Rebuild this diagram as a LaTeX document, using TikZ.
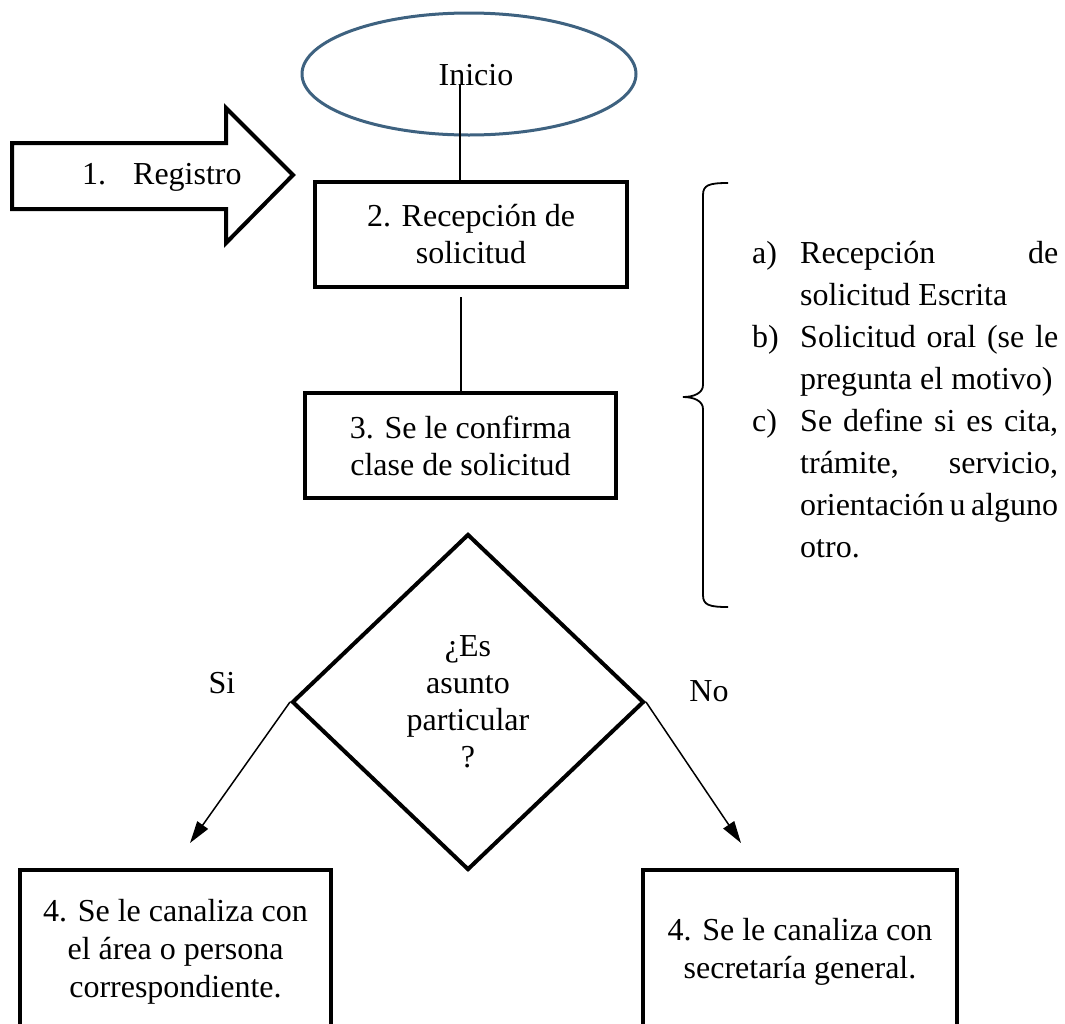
\documentclass[tikz,border=0pt]{standalone}
\usepackage{fontspec}
\setmainfont{Liberation Serif}
\usetikzlibrary{shapes.geometric,arrows.meta}
\definecolor{elline}{RGB}{62,98,128}
\begin{document}
\begin{tikzpicture}[x=1pt,y=-1pt,
  txt/.style={font=\fontsize{32}{37}\selectfont, inner sep=0pt, align=center},
  listtxt/.style={font=\fontsize{32}{38}\selectfont, inner sep=0pt, anchor=base west},
  boxnode/.style={draw, line width=4pt, rectangle, inner sep=0pt, align=center, font=\fontsize{32}{38}\selectfont},
  conn/.style={line width=1.5pt},
  arr/.style={conn, -{Triangle[length=22pt,width=13pt]}},
  bigarrow/.style={draw, line width=4pt, line join=miter},
  bracestyle/.style={line width=1.8pt}]
\useasboundingbox (0,0) rectangle (1065,1023);
\clip (0,0) rectangle (1065,1023);
\fill[white] (0,0) rectangle (1065,1023);

% start ellipse
\node[ellipse, draw=elline, line width=3pt, minimum width=334pt, minimum height=122pt, inner sep=0pt] (ini) at (469,74) {};
\node[txt] (iniT) at (476,75) {Inicio};

% registro arrow
\draw[bigarrow] (12,143) -- (226,143) -- (226,108) -- (293,175) -- (226,243) -- (226,209) -- (12,209) -- cycle;
\node[txt, anchor=west] (reg) at (82,177) {1.\hspace{27pt}Registro};

% boxes
\node[boxnode, minimum width=312pt, minimum height=105pt, font=\fontsize{32}{37}\selectfont] (b2) at (471,234.5) {2. Recepción de\\solicitud};
\node[boxnode, minimum width=311pt, minimum height=105pt, font=\fontsize{32}{37}\selectfont] (b3) at (460.5,445.5) {3. Se le confirma\\clase de solicitud};

\coordinate (c1) at (460,85);
\draw[conn] (c1) -- (c1 |- b2.north);
\coordinate (c2) at (461,297);
\draw[conn] (c2) -- (c2 |- b3.north);

% decision
\node[diamond, draw, line width=4pt, minimum width=352pt, minimum height=336pt, inner sep=0pt, align=center, font=\fontsize{32}{37}\selectfont] (dec) at (468,702) {¿Es\\asunto\\particular\\?};
\node[txt] (si) at (222,683) {Si};
\node[txt] (no) at (709,691) {No};

\coordinate (tl) at (190,843);
\coordinate (tr) at (741,843);
\draw[arr] (dec.west) -- (tl);
\draw[arr] (dec.east) -- (tr);

% bottom boxes
\node[boxnode, minimum width=311pt, minimum height=164pt] (b4a) at (175.5,952) {4. Se le canaliza con\\el área o persona\\correspondiente.};
\node[boxnode, minimum width=314pt, minimum height=164pt] (b4b) at (800,952) {4. Se le canaliza con\\secretaría general.};

% brace
\draw[bracestyle] (728,183) .. controls (709,183) and (703,185) .. (703,195) -- (703,385) .. controls (703,393) and (694,397) .. (683,397) .. controls (694,397) and (703,401) .. (703,409) -- (703,595) .. controls (703,605) and (709,607) .. (728,607);

% list
\node[listtxt] (la) at (752,263) {a)};
\node[listtxt] (l1) at (800,263) {\makebox[258pt][s]{Recepción de}};
\node[listtxt] (l2) at (800,305) {solicitud Escrita};
\node[listtxt] (lb) at (752,347) {b)};
\node[listtxt] (l3) at (800,347) {\makebox[258pt][s]{Solicitud oral (se le}};
\node[listtxt] (l4) at (800,389) {pregunta el motivo)};
\node[listtxt] (lc) at (752,431) {c)};
\node[listtxt] (l5) at (800,431) {\makebox[258pt][s]{Se define si es cita,}};
\node[listtxt] (l6) at (800,473) {\makebox[258pt][s]{trámite, servicio,}};
\node[listtxt] (l7) at (800,515) {\makebox[258pt][s]{orientación u alguno}};
\node[listtxt] (l8) at (800,557) {otro.};
\end{tikzpicture}
\end{document}
